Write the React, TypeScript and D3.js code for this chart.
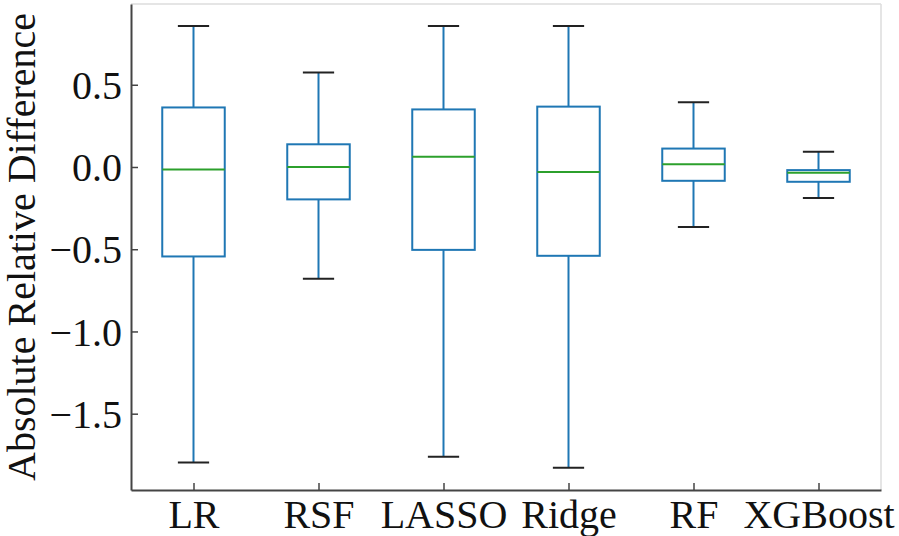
import React, { useEffect, useRef } from 'react';
import * as d3 from 'd3';

const models = ['LR', 'RSF', 'LASSO', 'Ridge', 'RF', 'XGBoost'];
const whiskerLow = [-1.797, -0.68, -1.762, -1.829, -0.365, -0.189];
const q1 = [-0.544, -0.197, -0.504, -0.54, -0.084, -0.09];
const median = [-0.015, 0.0, 0.062, -0.031, 0.017, -0.035];
const q3 = [0.362, 0.138, 0.35, 0.367, 0.112, -0.019];
const whiskerHigh = [0.857, 0.575, 0.857, 0.857, 0.393, 0.092];
const yTicks = [-1.5, -1.0, -0.5, 0.0, 0.5];

const W = 899;
const H = 536;

const App: React.FC = () => {
  const svgRef = useRef<SVGSVGElement>(null);

  useEffect(() => {
    document.body.style.margin = '0';
    if (!svgRef.current) return;
    const svg = d3.select(svgRef.current);
    svg.selectAll('*').remove();

    const margin = { top: 4, right: 18, bottom: 46, left: 131 };
    const width = W - margin.left - margin.right;
    const height = H - margin.top - margin.bottom;
    const font = '"Liberation Serif", "Times New Roman", serif';
    const fs = 40;

    const g = svg.append('g').attr('transform', `translate(${margin.left},${margin.top})`);

    const x = d3.scaleLinear().domain([0.5, models.length + 0.5]).range([0, width]);
    const y = d3.scaleLinear().domain([-1.964, 0.991]).range([height, 0]);

    const boxW = x(1.25) - x(1);
    const capW = boxW / 2;

    // top / right spines (light)
    g.append('line').attr('x1', 0).attr('x2', width).attr('y1', 0).attr('y2', 0)
      .attr('stroke', '#dcdcdc').attr('stroke-width', 1.5);
    g.append('line').attr('x1', width).attr('x2', width).attr('y1', 0).attr('y2', height)
      .attr('stroke', '#dcdcdc').attr('stroke-width', 1.5);

    // boxes
    models.forEach((m, i) => {
      const cx = x(i + 1);
      const bg = g.append('g');
      bg.append('line').attr('x1', cx).attr('x2', cx)
        .attr('y1', y(q3[i])).attr('y2', y(whiskerHigh[i]))
        .attr('stroke', '#1f77b4').attr('stroke-width', 2);
      bg.append('line').attr('x1', cx).attr('x2', cx)
        .attr('y1', y(q1[i])).attr('y2', y(whiskerLow[i]))
        .attr('stroke', '#1f77b4').attr('stroke-width', 2);
      bg.append('rect')
        .attr('x', cx - boxW).attr('width', boxW * 2)
        .attr('y', y(q3[i])).attr('height', y(q1[i]) - y(q3[i]))
        .attr('fill', 'none').attr('stroke', '#1f77b4').attr('stroke-width', 2);
      [whiskerHigh[i], whiskerLow[i]].forEach(v => {
        bg.append('line').attr('x1', cx - capW).attr('x2', cx + capW)
          .attr('y1', y(v)).attr('y2', y(v))
          .attr('stroke', '#222').attr('stroke-width', 2);
      });
      bg.append('line').attr('x1', cx - boxW).attr('x2', cx + boxW)
        .attr('y1', y(median[i])).attr('y2', y(median[i]))
        .attr('stroke', '#2ca02c').attr('stroke-width', 2);
    });

    // Y axis, ticks inward
    const yAxis = d3.axisLeft(y).tickValues(yTicks).tickFormat(d3.format('.1f'))
      .tickSizeInner(-7).tickSizeOuter(0).tickPadding(9);
    const ya = g.append('g').call(yAxis);
    ya.select('.domain').attr('stroke', '#444').attr('stroke-width', 2);
    ya.selectAll('line').attr('stroke', '#444').attr('stroke-width', 1.5);
    ya.selectAll('text').attr('fill', '#111').attr('font-family', font).attr('font-size', fs)
      .attr('x', -9).attr('dy', '0.34em');

    // X axis
    const xAxis = d3.axisBottom(x).tickValues(models.map((_, i) => i + 1))
      .tickFormat((_, i) => models[i]).tickSizeInner(-7).tickSizeOuter(0);
    const xa = g.append('g').attr('transform', `translate(0,${height})`).call(xAxis);
    xa.select('.domain').attr('stroke', '#444').attr('stroke-width', 2);
    xa.selectAll('line').attr('stroke', '#444').attr('stroke-width', 1.5);
    xa.selectAll('text').attr('fill', '#111').attr('font-family', font).attr('font-size', fs)
      .attr('y', 38).attr('dy', 0);

    // Y label
    svg.append('text')
      .attr('transform', `translate(35,${margin.top + height / 2}) rotate(-90)`)
      .attr('text-anchor', 'middle')
      .attr('fill', '#111')
      .attr('font-family', font)
      .attr('font-size', fs)
      .text('Absolute Relative Difference');
  }, []);

  return <svg ref={svgRef} width={W} height={H} style={{ display: 'block', background: '#fff' }} />;
};

export default App;
